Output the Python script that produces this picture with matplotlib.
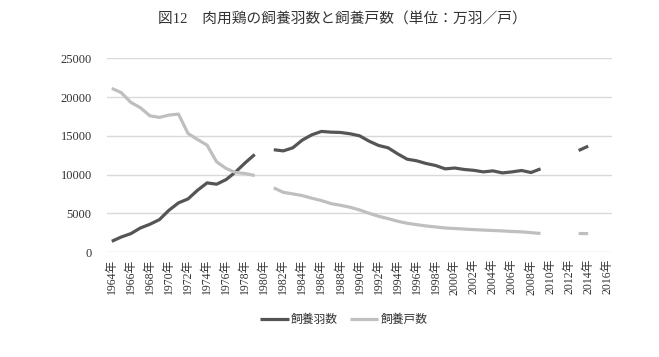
import numpy as np
import matplotlib
matplotlib.use('Agg')
import matplotlib.pyplot as plt

plt.rcParams['font.family'] = ['Liberation Serif', 'Noto Sans CJK JP', 'DejaVu Sans']

# 1964..2016, nan where no survey
years = list(range(1964, 2017))
year_labels = [str(y) + '年' for y in years]

# 飼養羽数 (万羽)
birds = [1380, 1940, 2370, 3100, 3580, 4180, 5390, 6340, 6850, 7970,
         8920, 8750, 9350, 10340, 11510, 12590, np.nan, 13200, 13050, 13450,
         14450, 15130, 15560, 15470, 15430, 15260, 15000, 14310, 13750, 13450,
         12670, 11980, 11770, 11420, 11160, 10730, 10840, 10650, 10540, 10340,
         10470, 10210, 10340, 10520, 10260, 10730, np.nan, np.nan, np.nan, 13100,
         13660, np.nan, np.nan]

# 飼養戸数 (戸)
farms = [21120, 20560, 19310, 18620, 17580, 17370, 17670, 17800, 15300, 14520,
         13790, 11640, 10780, 10260, 10130, 9870, np.nan, 8280, 7700, 7500,
         7280, 6940, 6640, 6250, 6030, 5780, 5430, 5000, 4610, 4310,
         3970, 3710, 3530, 3360, 3230, 3100, 3030, 2960, 2890, 2830,
         2780, 2720, 2650, 2600, 2500, 2390, np.nan, np.nan, np.nan, 2390,
         2370, np.nan, np.nan]

title = '図12　肉用鶏の飼養羽数と飼養戸数（単位：万羽／戸）'

fig = plt.figure(figsize=(6.59, 3.57), dpi=100)
ax = fig.add_axes([0.1624, 0.2941, 0.7663, 0.5426])

x = np.arange(len(years))
ax.plot(x, birds, color='#555555', lw=2.3, label='飼養羽数', solid_capstyle='butt')
ax.plot(x, farms, color='#bfbfbf', lw=2.3, label='飼養戸数', solid_capstyle='butt')

ax.set_xlim(-0.5, len(years) - 0.5)
ax.set_ylim(0, 25000)
ax.set_yticks(range(0, 25001, 5000))
ax.set_yticklabels([str(v) for v in range(0, 25001, 5000)], fontsize=9, color='#333333')
ax.set_xticks(x[::2])
ax.set_xticklabels(year_labels[::2], rotation=90, fontsize=8.5, color='#333333')
ax.tick_params(axis='both', length=0)
ax.tick_params(axis='y', pad=11)
ax.tick_params(axis='x', pad=5)

ax.grid(axis='y', color='#d9d9d9', lw=1)
ax.set_axisbelow(True)
for s in ax.spines.values():
    s.set_visible(False)

fig.text(0.52, 0.944, title, ha='center', va='center', fontsize=10.6, color='#333333')

fig.legend(loc='center', bbox_to_anchor=(0.522, 0.104), ncol=2, frameon=False,
           fontsize=8.5, handlelength=2.4, handletextpad=0.2, columnspacing=1.0,
           labelcolor='#333333')

fig.savefig('out.png', dpi=100)
